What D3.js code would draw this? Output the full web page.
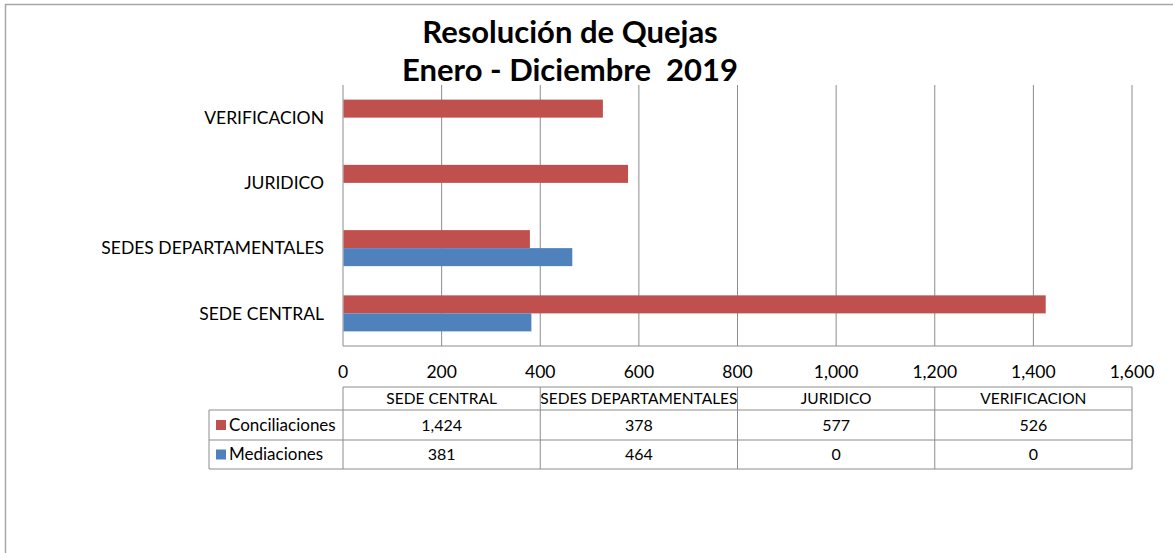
<!DOCTYPE html>
<html>
<head>
<meta charset="utf-8">
<script src="https://cdn.jsdelivr.net/npm/d3@7"></script>
<style>
  body { margin: 0; background: #fff; }
  svg { font-family: Lato, 'Open Sans', sans-serif; }
</style>
</head>
<body>
<svg id="chart" width="1173" height="553"></svg>
<script>
const categories = ['SEDE CENTRAL', 'SEDES DEPARTAMENTALES', 'JURIDICO', 'VERIFICACION']
const seriesNames = ['Conciliaciones', 'Mediaciones']
const conciliaciones = [1424, 378, 577, 526]
const mediaciones = [381, 464, 0, 0]
const xTicks = [0, 200, 400, 600, 800, 1000, 1200, 1400, 1600]
const titleLines = ['Resolución de Quejas', 'Enero - Diciembre  2019']

const colors = { Conciliaciones: '#C0504D', Mediaciones: '#4F81BD' }
const seriesValues = { Conciliaciones: conciliaciones, Mediaciones: mediaciones }

const plot = { left: 343, right: 1132, top: 85, bottom: 346 }
const svg = d3.select('#chart')

// outer chart border (runs off the picture on right and bottom)
svg.append('rect')
  .attr('x', 5.5).attr('y', 4.5)
  .attr('width', 1300).attr('height', 700)
  .attr('fill', 'none')
  .attr('stroke', '#a6a6a6')
  .attr('stroke-width', 1.5)

const x = d3.scaleLinear().domain([0, 1600]).range([plot.left, plot.right])

const y = d3.scaleBand()
  .domain(categories.slice().reverse())
  .range([plot.top, plot.bottom])
  .paddingInner(0.448)
  .paddingOuter(0.224)

const ySeries = d3.scaleBand()
  .domain(seriesNames)
  .range([0, y.bandwidth()])

// gridlines
svg.append('g')
  .selectAll('line')
  .data(xTicks)
  .enter()
  .append('line')
  .attr('x1', d => x(d)).attr('x2', d => x(d))
  .attr('y1', plot.top).attr('y2', plot.bottom)
  .attr('stroke', '#8c8c8c')
  .attr('stroke-width', 1)

// bottom axis line
svg.append('line')
  .attr('x1', plot.left).attr('x2', plot.right)
  .attr('y1', plot.bottom).attr('y2', plot.bottom)
  .attr('stroke', '#8c8c8c')

// bars
const rows = categories.map((c, i) => ({
  category: c,
  values: seriesNames.map(s => ({ series: s, value: seriesValues[s][i] }))
}))

const groups = svg.append('g')
  .selectAll('g')
  .data(rows)
  .enter()
  .append('g')
  .attr('transform', d => 'translate(0,' + y(d.category) + ')')

groups.selectAll('rect')
  .data(d => d.values.filter(v => v.value > 0))
  .enter()
  .append('rect')
  .attr('x', x(0) + 0.5)
  .attr('y', d => ySeries(d.series))
  .attr('width', d => x(d.value) - x(0))
  .attr('height', ySeries.bandwidth())
  .attr('fill', d => colors[d.series])

// category labels
svg.append('g')
  .selectAll('text')
  .data(categories)
  .enter()
  .append('text')
  .attr('x', 324)
  .attr('y', d => y(d) + y.bandwidth() / 2)
  .attr('dy', '0.35em')
  .attr('text-anchor', 'end')
  .attr('font-size', 17.5)
  .attr('fill', '#000')
  .text(d => d)

// x tick labels
svg.append('g')
  .selectAll('text')
  .data(xTicks)
  .enter()
  .append('text')
  .attr('x', d => x(d))
  .attr('y', 372)
  .attr('dy', '0.35em')
  .attr('text-anchor', 'middle')
  .attr('font-size', 17.5)
  .attr('fill', '#000')
  .text(d => d3.format(',')(d))

// title
svg.append('g')
  .selectAll('text')
  .data(titleLines)
  .enter()
  .append('text')
  .attr('x', 570)
  .attr('y', (d, i) => 43 + i * 38)
  .attr('text-anchor', 'middle')
  .attr('font-size', 31)
  .attr('font-weight', 'bold')
  .style('white-space', 'pre')
  .attr('fill', '#000')
  .text(d => d)

// data table
const colX = d3.scaleBand().domain(categories).range([plot.left, plot.right])
const table = { left: 209, top: 387, head: 410, rows: [410, 440, 469] }
const gridColor = '#8c8c8c'
const t = svg.append('g')

// horizontal lines
t.append('line')
  .attr('x1', plot.left).attr('x2', plot.right)
  .attr('y1', table.top).attr('y2', table.top)
  .attr('stroke', gridColor)
t.selectAll('.hrow')
  .data(table.rows)
  .enter()
  .append('line')
  .attr('class', 'hrow')
  .attr('x1', table.left).attr('x2', plot.right)
  .attr('y1', d => d).attr('y2', d => d)
  .attr('stroke', gridColor)

// vertical lines
t.append('line')
  .attr('x1', table.left).attr('x2', table.left)
  .attr('y1', table.head).attr('y2', table.rows[2])
  .attr('stroke', gridColor)
t.selectAll('.vcol')
  .data(categories.map(c => colX(c)).concat([plot.right]))
  .enter()
  .append('line')
  .attr('class', 'vcol')
  .attr('x1', d => d).attr('x2', d => d)
  .attr('y1', table.top).attr('y2', table.rows[2])
  .attr('stroke', gridColor)

// header
t.selectAll('.head')
  .data(categories)
  .enter()
  .append('text')
  .attr('class', 'head')
  .attr('x', d => colX(d) + colX.bandwidth() / 2)
  .attr('y', (table.top + table.head) / 2)
  .attr('dy', '0.35em')
  .attr('text-anchor', 'middle')
  .attr('font-size', 15.5)
  .attr('fill', '#000')
  .text(d => d)

// series rows
seriesNames.forEach((s, r) => {
  const cy = (table.rows[r] + table.rows[r + 1]) / 2
  t.append('rect')
    .attr('x', 216).attr('y', cy - 5)
    .attr('width', 10).attr('height', 10)
    .attr('fill', colors[s])
  t.append('text')
    .attr('x', 229).attr('y', cy)
    .attr('dy', '0.35em')
    .attr('font-size', 17)
    .attr('fill', '#000')
    .text(s)
  t.selectAll('.val' + r)
    .data(seriesValues[s])
    .enter()
    .append('text')
    .attr('x', (d, i) => colX(categories[i]) + colX.bandwidth() / 2)
    .attr('y', cy)
    .attr('dy', '0.35em')
    .attr('text-anchor', 'middle')
    .attr('font-size', 16)
    .attr('fill', '#000')
    .text(d => d3.format(',')(d))
})
</script>
</body>
</html>
